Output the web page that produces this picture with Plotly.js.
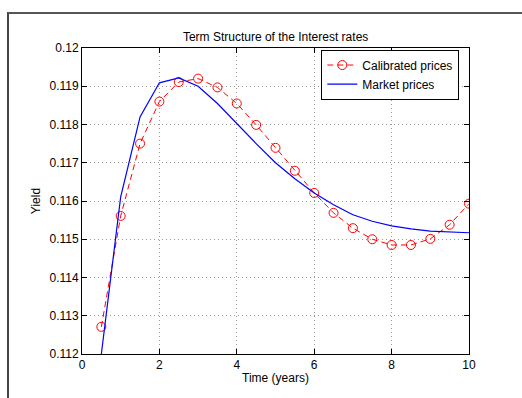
<!DOCTYPE html>
<html>
<head>
<meta charset="utf-8">
<script src="https://cdn.plot.ly/plotly-3.0.1.min.js"></script>
<style>
html,body{margin:0;padding:0;background:#fff;}
#wrap{position:relative;width:522px;height:398px;overflow:hidden;}
#frame{position:absolute;left:7px;top:12px;width:600px;height:500px;border-top:2px solid #555;border-left:2px solid #444;pointer-events:none;}
#chart{position:absolute;left:0;top:0;width:522px;height:398px;}
</style>
</head>
<body>
<div id="wrap">
<div id="chart"></div>
<div id="frame"></div>
</div>
<script>
// Maturities (years)
const maturities = [0.5,1,1.5,2,2.5,3,3.5,4,4.5,5,5.5,6,6.5,7,7.5,8,8.5,9,9.5,10];
// Calibrated yields
const calibrated = [0.11271,0.11561,0.11750,0.11860,0.11911,0.11920,0.11897,0.11855,0.11799,0.11739,
                    0.11679,0.11621,0.11569,0.11529,0.11500,0.11485,0.11485,0.11501,0.11538,0.11593];
// Market yields
const market = [0.11200,0.11611,0.11820,0.11909,0.11922,0.11900,0.11855,0.11802,0.11750,0.11700,
                0.11658,0.11621,0.11590,0.11564,0.11547,0.11535,0.11527,0.11521,0.11518,0.11517];
const xTicks = [0,2,4,6,8,10];
const yTicks = [0.112,0.113,0.114,0.115,0.116,0.117,0.118,0.119,0.12];
const yTickText = ['0.112','0.113','0.114','0.115','0.116','0.117','0.118','0.119','0.12'];

const font = 'Liberation Sans, Arial, sans-serif';

const traces = [
  {x: maturities, y: calibrated, name: 'Calibrated prices', type: 'scatter', mode: 'lines+markers',
   line: {color: '#ff0000', width: 1, dash: '6px,4px'},
   marker: {symbol: 'circle-open', size: 9, color: '#ff0000', line: {width: 1, color: '#ff0000'}},
   cliponaxis: true},
  {x: maturities, y: market, name: 'Market prices', type: 'scatter', mode: 'lines',
   line: {color: '#0000ff', width: 1.2}, cliponaxis: true}
];

const axisCommon = {
  showline: true, linecolor: '#000', linewidth: 1, mirror: 'ticks',
  ticks: 'inside', ticklen: 5, tickcolor: '#000', tickwidth: 1,
  showgrid: true, gridcolor: '#9a9a9a', gridwidth: 1, griddash: '1px,3px',
  zeroline: false, tickfont: {family: font, size: 12, color: '#000'}
};

const layout = {
  width: 522, height: 398,
  margin: {l: 82, r: 53, t: 48, b: 44},
  paper_bgcolor: '#fff', plot_bgcolor: '#fff',
  font: {family: font, size: 12, color: '#000'},
  title: {text: 'Term Structure of the Interest rates', font: {family: font, size: 12, color: '#000'},
          x: 0.528, xanchor: 'center', y: 0.907, yanchor: 'middle'},
  xaxis: Object.assign({}, axisCommon, {
    range: [0, 10], tickvals: xTicks, ticktext: xTicks.map(String),
    title: {text: 'Time (years)', font: {family: font, size: 12, color: '#000'}, standoff: 2}
  }),
  yaxis: Object.assign({}, axisCommon, {
    range: [0.112, 0.12], tickvals: yTicks, ticktext: yTickText,
    title: {text: 'Yield', font: {family: font, size: 12, color: '#000'}, standoff: 6}
  }),
  showlegend: true,
  legend: {x: 0.975, xanchor: 'right', y: 0.995, yanchor: 'top',
           bgcolor: '#fff', bordercolor: '#000', borderwidth: 1,
           font: {family: font, size: 12, color: '#000'}, tracegroupgap: 0, itemwidth: 30}
};

Plotly.newPlot('chart', traces, layout, {displayModeBar: false, staticPlot: true});
</script>
</body>
</html>
